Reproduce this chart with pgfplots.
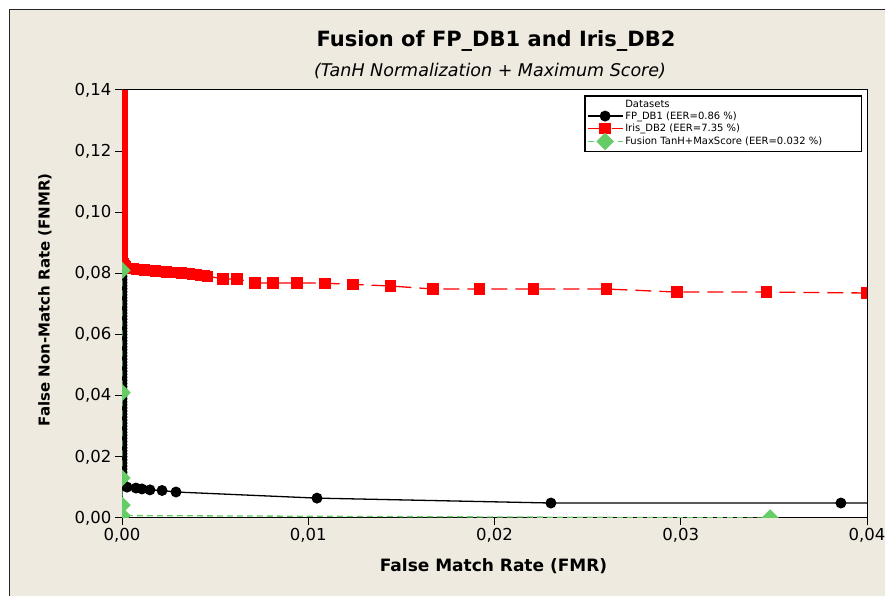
\documentclass[border=0pt]{standalone}
\usepackage{fontspec}
\setmainfont{DejaVu Sans}
\usepackage{pgfplots}
\pgfplotsset{compat=1.18}
\definecolor{bgbeige}{RGB}{238,234,223}
\definecolor{fusegreen}{RGB}{102,204,102}

\begin{document}
\begin{tikzpicture}[x=1pt,y=1pt]
% page and Minitab-like graph frame
\fill[white] (0,0) rectangle (885,596);
\fill[bgbeige] (9,0) rectangle (885,586);
\draw[black!85,line width=1pt] (9,-2) -- (9,586) -- (887,586);
\node[font=\fontsize{21}{24}\selectfont\bfseries, anchor=base] at (496,549) {Fusion of FP\_DB1 and Iris\_DB2};
\node[font=\fontsize{17.5}{20}\selectfont\itshape, anchor=base] at (490,519) {(TanH Normalization + Maximum Score)};

\begin{axis}[
  at={(122pt,78pt)}, anchor=south west,
  scale only axis, width=745pt, height=428pt,
  xmin=0, xmax=0.04, ymin=0, ymax=0.14,
  clip marker paths=true,
  axis background/.style={fill=white},
  axis line style={black, line width=1pt},
  tick align=outside, xtick pos=bottom, ytick pos=left,
  major tick length=7pt,
  tick style={black, line width=1pt},
  xtick={0,0.01,0.02,0.03,0.04},
  ytick={0,0.02,0.04,0.06,0.08,0.10,0.12,0.14},
  scaled ticks=false,
  /pgf/number format/fixed,
  /pgf/number format/fixed zerofill,
  /pgf/number format/precision=2,
  /pgf/number format/use comma,
  /pgf/number format/assume math mode=true,
  tick label style={font=\fontsize{16.5}{19}\selectfont},
  xlabel={False Match Rate (FMR)},
  xlabel style={font=\fontsize{17}{20}\selectfont\bfseries, at={(axis description cs:0.4987,-0.112)}, anchor=center},
  ylabel={False Non-Match Rate (FNMR)},
  ylabel style={font=\fontsize{15}{18}\selectfont\bfseries, at={(axis description cs:-0.1034,0.51)}, anchor=center},
  legend style={at={(0.9933,0.9883)}, anchor=north east, draw=black, line width=1.5pt,
    fill=white, font=\fontsize{10}{11}\selectfont, row sep=-1pt, inner sep=2pt},
  legend cell align=left,
  legend image code/.code={\draw[line width=1.3pt,mark repeat=2,mark phase=2,#1] plot coordinates {(0pt,0pt)(17.5pt,0pt)(35pt,0pt)};},
]
\addlegendimage{empty legend}
\addlegendentry{Datasets}

% FP_DB1
\addplot[black, line width=1.3pt, mark=*, mark size=4.8pt, mark options={solid}] coordinates {
  (0,0.081) (0,0.080) (0,0.079) (0,0.078) (0,0.077) (0,0.076) (0,0.075) (0,0.074) (0,0.073)
  (0,0.072) (0,0.071) (0,0.070) (0,0.069) (0,0.068) (0,0.067) (0,0.066) (0,0.065) (0,0.064)
  (0,0.063) (0,0.062) (0,0.061) (0,0.060) (0,0.059) (0,0.058) (0,0.057) (0,0.056) (0,0.055)
  (0,0.054) (0,0.053) (0,0.052) (0,0.051) (0,0.050) (0,0.049) (0,0.048) (0,0.047) (0,0.046)
  (0,0.045) (0,0.044) (0,0.043) (0,0.042) (0,0.041) (0,0.040) (0,0.039) (0,0.038) (0,0.037)
  (0,0.036) (0,0.035) (0,0.034) (0,0.033) (0,0.032) (0,0.031) (0,0.030) (0,0.029) (0,0.028)
  (0,0.027) (0,0.026) (0,0.025) (0,0.024) (0,0.023) (0,0.022) (0,0.021) (0,0.020) (0,0.019)
  (0,0.018) (0,0.017) (0,0.016) (0,0.015) (0,0.014) (0,0.013) (0,0.012) (0,0.011)
  (0.00027,0.0101) (0.00075,0.0098) (0.00107,0.0095) (0.0015,0.0092) (0.00215,0.0090)
  (0.0029,0.0085) (0.01047,0.0065) (0.02303,0.0049) (0.0386,0.0049) (0.045,0.0049)
};
\addlegendentry{FP\_DB1 (EER=0.86 \%)}

% Iris_DB2
\addplot[red, line width=1.3pt, dash pattern=on 16pt off 8pt, mark=square*, mark size=5pt, mark options={solid}] coordinates {
  (0,0.150) (0,0.147) (0,0.144) (0,0.141) (0,0.138) (0,0.135) (0,0.132) (0,0.129) (0,0.126)
  (0,0.123) (0,0.120) (0,0.117) (0,0.114) (0,0.111) (0,0.108) (0,0.105) (0,0.102) (0,0.099)
  (0,0.096) (0,0.093) (0,0.090) (0,0.087) (0,0.084)
  (0.00005,0.0832) (0.0001,0.0826) (0.0002,0.0821) (0.0004,0.0817) (0.0006,0.0815)
  (0.0008,0.0813) (0.0010,0.0812) (0.0012,0.0811) (0.0014,0.0810) (0.0016,0.0809)
  (0.0018,0.0808) (0.0020,0.0807) (0.0022,0.0806) (0.0024,0.0805) (0.0026,0.0804)
  (0.0028,0.0803) (0.0030,0.0802) (0.0032,0.0801) (0.0034,0.0800) (0.0036,0.0799)
  (0.0038,0.0797) (0.0040,0.0796) (0.0042,0.0794) (0.0044,0.0793) (0.0046,0.0791)
  (0.00542,0.0782) (0.00617,0.0782) (0.00714,0.0769) (0.00811,0.0769) (0.0094,0.0769)
  (0.0109,0.0768) (0.0124,0.0764) (0.0144,0.0759) (0.0167,0.0749) (0.0192,0.0749)
  (0.0221,0.0749) (0.0260,0.0749) (0.0298,0.0739) (0.0346,0.0739) (0.0400,0.0736)
};
\addlegendentry{Iris\_DB2 (EER=7.35 \%)}

% Fusion TanH + MaxScore
\addplot[fusegreen, line width=1.3pt, dash pattern=on 6pt off 4pt, mark=square*, mark size=5.5pt, mark options={solid, rotate=45}] coordinates {
  (0,0.0810) (0,0.0410) (0,0.0131) (0,0.0042) (0,0.0008) (0.0348,0.0)
};
\addlegendentry{\makebox[232pt][l]{Fusion TanH+MaxScore (EER=0.032 \%)}}
\end{axis}
\pgfresetboundingbox
\path[use as bounding box] (0,0) rectangle (885,596);
\end{tikzpicture}
\end{document}
